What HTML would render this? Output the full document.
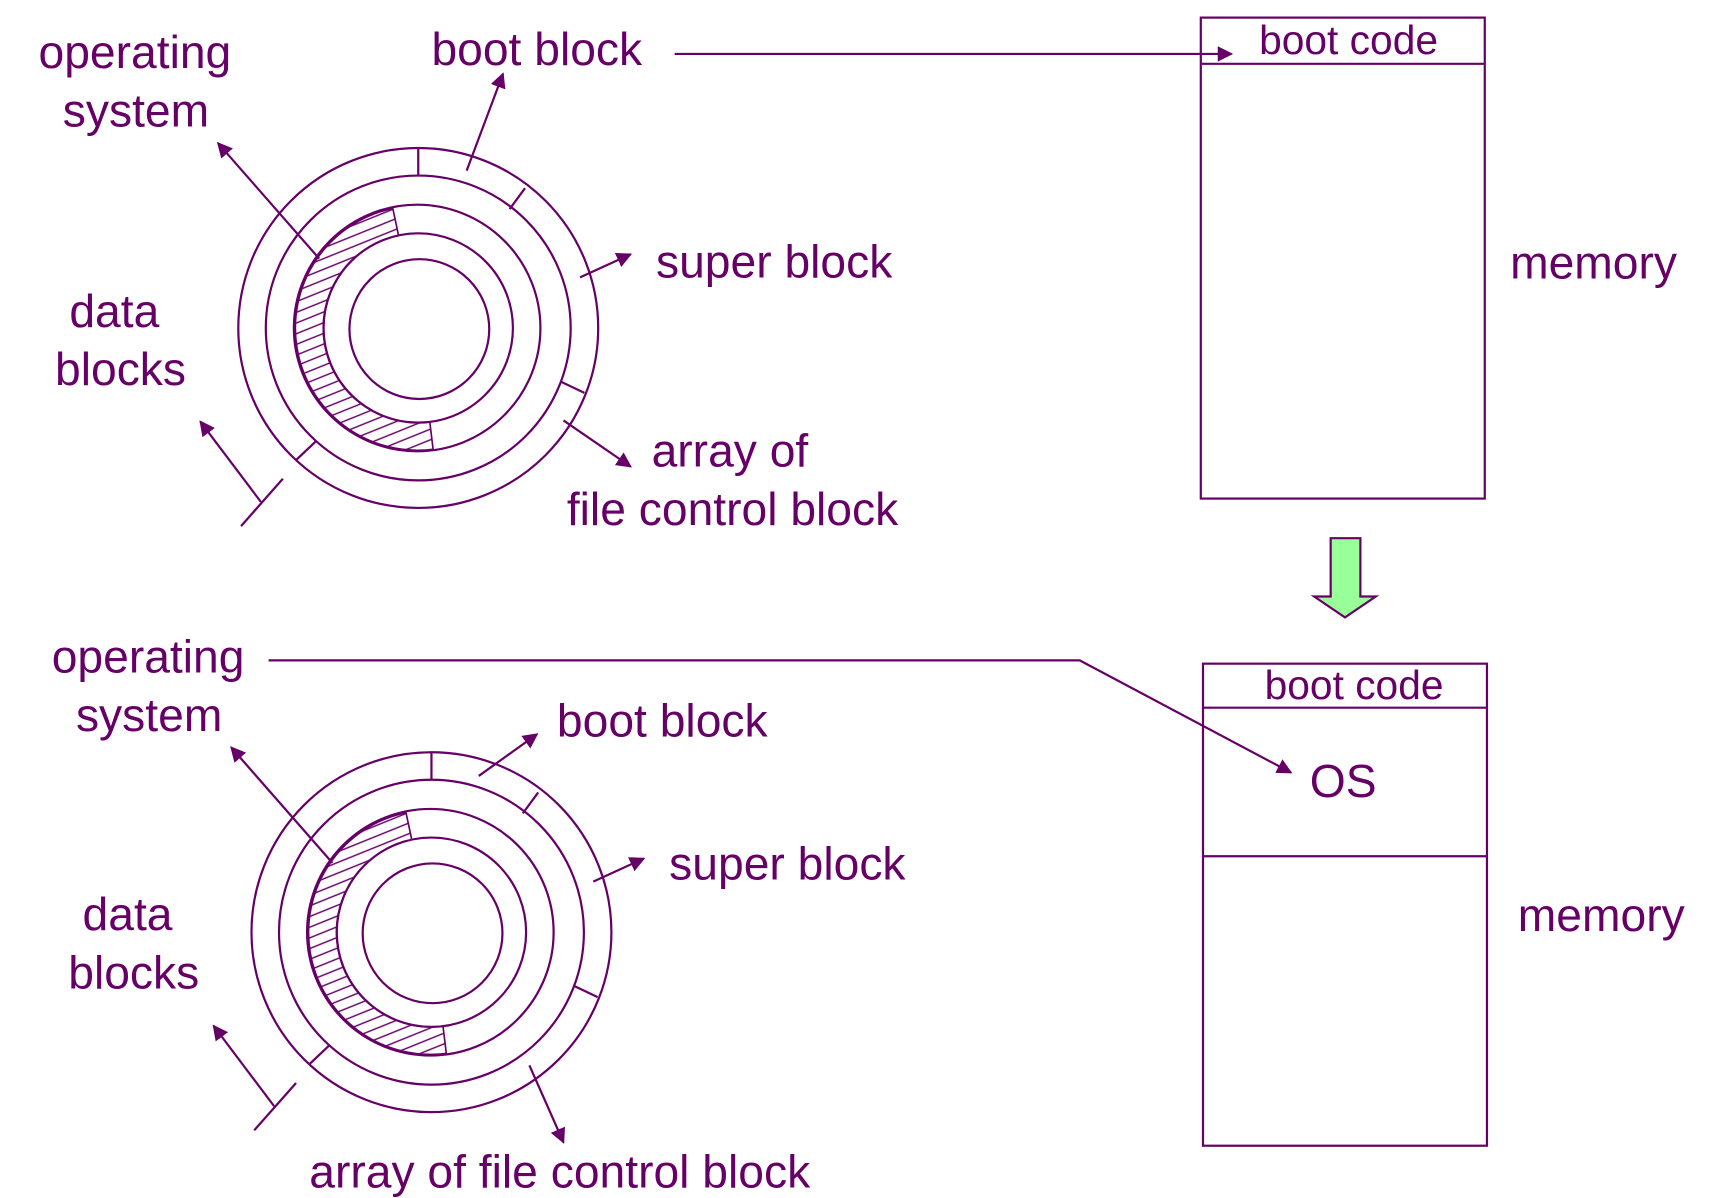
<!DOCTYPE html>
<html><head><meta charset="utf-8"><style>
html,body{margin:0;padding:0;background:#fff;}
svg{display:block;}
text{font-family:"Liberation Sans",Arial,sans-serif;fill:#660066;}
</style></head><body>
<svg width="1717" height="1198" viewBox="0 0 1560 1088.5" preserveAspectRatio="none" xmlns="http://www.w3.org/2000/svg">
<defs>
<marker id="ah" viewBox="0 0 10 10" refX="9" refY="5" markerWidth="14" markerHeight="14" markerUnits="userSpaceOnUse" orient="auto">
<path d="M0,0 L10,5 L0,10 z" fill="#660066"/>
</marker>
<pattern id="hatch" patternUnits="userSpaceOnUse" width="9" height="9" patternTransform="rotate(-22)">
<line x1="0" y1="4" x2="9" y2="4" stroke="#660066" stroke-width="1.3"/>
</pattern>
<g id="disk" fill="none" stroke="#660066" stroke-width="2">
<path d="M356.9,189.4 A111,111 0 0 0 393.5,408.2 L390.5,383.4 A86,86 0 0 1 362.1,213.9 Z" fill="url(#hatch)" stroke="#660066" stroke-width="1.5"/>
<circle cx="380" cy="298" r="163.5"/>
<circle cx="380" cy="298" r="138.5"/>
<circle cx="379" cy="298" r="112"/>
<circle cx="380" cy="298" r="86"/>
<circle cx="381" cy="299" r="63.5"/>
<line x1="380" y1="134.5" x2="380" y2="160"/>
<line x1="463" y1="190" x2="477" y2="171"/>
<line x1="510" y1="347" x2="531" y2="357"/>
<line x1="269" y1="418" x2="287" y2="401"/>
<line x1="290" y1="235" x2="198" y2="130" marker-end="url(#ah)"/>
<line x1="527" y1="252" x2="573" y2="231" marker-end="url(#ah)"/>
<line x1="237" y1="456" x2="182" y2="383" marker-end="url(#ah)"/>
<line x1="219" y1="478" x2="257" y2="435"/>
</g>
</defs>

<!-- top disk -->
<use href="#disk"/>
<g fill="none" stroke="#660066" stroke-width="2">
<line x1="424" y1="155" x2="457" y2="67" marker-end="url(#ah)"/>
<line x1="512" y1="382" x2="573" y2="424" marker-end="url(#ah)"/>
<line x1="613" y1="49" x2="1119" y2="49" marker-end="url(#ah)"/>
<rect x="1091" y="16" width="258" height="437"/>
<line x1="1091" y1="58" x2="1349" y2="58"/>
</g>
<text x="35" y="62" font-size="42">operating</text>
<text x="57" y="115" font-size="42">system</text>
<text x="392" y="59" font-size="42">boot block</text>
<text x="596" y="252" font-size="42">super block</text>
<text x="63" y="297" font-size="42">data</text>
<text x="50" y="350" font-size="42">blocks</text>
<text x="592" y="424" font-size="42">array of</text>
<text x="515" y="477" font-size="42">file control block</text>
<text x="1144" y="49" font-size="37">boot code</text>
<text x="1372" y="253" font-size="42">memory</text>

<!-- green arrow -->
<path d="M1209,489 L1236,489 L1236,542 L1250,542 L1222,561 L1194,542 L1209,542 Z" fill="#99ff99" stroke="#660066" stroke-width="2"/>

<!-- bottom disk -->
<use href="#disk" transform="translate(12,549)"/>
<g fill="none" stroke="#660066" stroke-width="2">
<line x1="435" y1="705" x2="488" y2="667" marker-end="url(#ah)"/>
<line x1="481" y1="968" x2="512" y2="1038" marker-end="url(#ah)"/>
<polyline points="244,600 981,600 1173,702" marker-end="url(#ah)"/>
<rect x="1093" y="603" width="258" height="438"/>
<line x1="1093" y1="643" x2="1351" y2="643"/>
<line x1="1093" y1="778" x2="1351" y2="778"/>
</g>
<text x="47" y="611" font-size="42">operating</text>
<text x="69" y="664" font-size="42">system</text>
<text x="506" y="669" font-size="42">boot block</text>
<text x="608" y="799" font-size="42">super block</text>
<text x="75" y="845" font-size="42">data</text>
<text x="62" y="898" font-size="42">blocks</text>
<text x="281" y="1079" font-size="42">array of file control block</text>
<text x="1149" y="635" font-size="37">boot code</text>
<text x="1190" y="724" font-size="42">OS</text>
<text x="1379" y="846" font-size="42">memory</text>
</svg>
</body></html>
